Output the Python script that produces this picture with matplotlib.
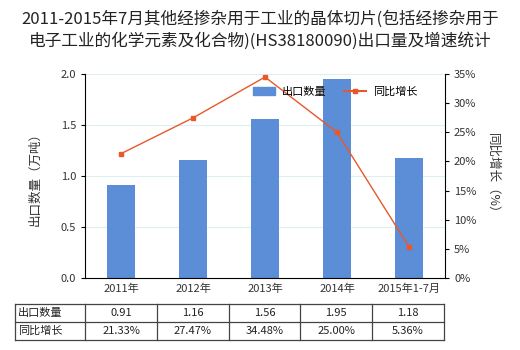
import matplotlib
matplotlib.use("Agg")
import matplotlib.pyplot as plt
from matplotlib.lines import Line2D
from matplotlib.patches import Patch

plt.rcParams['font.family'] = ['Noto Sans CJK SC', 'DejaVu Sans']

categories = ["2011年", "2012年", "2013年", "2014年", "2015年1-7月"]
volume = [0.91, 1.16, 1.56, 1.95, 1.18]
growth = [21.33, 27.47, 34.48, 25.00, 5.36]
volume_labels = ["0.91", "1.16", "1.56", "1.95", "1.18"]
growth_labels = ["21.33%", "27.47%", "34.48%", "25.00%", "5.36%"]

title = "2011-2015年7月其他经掺杂用于工业的晶体切片(包括经掺杂用于\n电子工业的化学元素及化合物)(HS38180090)出口量及增速统计"

bar_color = "#5B8ED6"
line_color = "#E8582A"
text_color = "#333333"

W, H = 520, 350
fig = plt.figure(figsize=(W / 100, H / 100), dpi=100)
left, right, top, bottom = 85, 445, 74, 278
ax = fig.add_axes([left / W, 1 - bottom / H, (right - left) / W, (bottom - top) / H])

x = list(range(len(categories)))
ax.bar(x, volume, width=0.4, color=bar_color, zorder=2)
ax.set_xlim(-0.5, len(categories) - 0.5)
ax.set_ylim(0, 2.0)
ax.set_yticks([0, 0.5, 1.0, 1.5, 2.0])
ax.set_yticklabels(["0.0", "0.5", "1.0", "1.5", "2.0"])
ax.set_xticks(x)
ax.set_xticklabels(categories)
ax.grid(axis='y', color="#DDEFF2", linewidth=0.8, zorder=0)
for s in ["top", "right"]:
    ax.spines[s].set_visible(False)
ax.spines["left"].set_color("black")
ax.spines["bottom"].set_color("black")
ax.tick_params(axis='y', labelsize=8, colors=text_color, length=3, color="black")
ax.tick_params(axis='x', labelsize=8, colors=text_color, length=0, pad=4)
ax.set_ylabel("出口数量（万吨）", fontsize=9, color=text_color, labelpad=14)

ax2 = ax.twinx()
ax2.plot(x, growth, color=line_color, linewidth=1.0, marker='s', markersize=3.5, zorder=3)
ax2.set_ylim(0, 35)
ax2.set_yticks(range(0, 36, 5))
ax2.set_yticklabels([f"{v}%" for v in range(0, 36, 5)])
for s in ["top", "left", "bottom"]:
    ax2.spines[s].set_visible(False)
ax2.spines["right"].set_color("black")
ax2.tick_params(axis='y', labelsize=8, colors=text_color, length=3, color="black")
ax2.set_ylabel("同比增长（%）", fontsize=9, color=text_color, rotation=-90, labelpad=16)

handles = [Patch(color=bar_color, label="出口数量"),
           Line2D([0], [0], color=line_color, marker='s', markersize=3.5, linewidth=1.5, label="同比增长")]
fig.legend(handles=handles, loc="center", bbox_to_anchor=(335 / W, 1 - 92 / H), ncol=2,
           frameon=False, fontsize=8, handlelength=2.0, columnspacing=1.6, handletextpad=0.6)

fig.text(0.5, 1 - 30 / H, title, ha='center', va='center', fontsize=12, color="#222222", linespacing=1.3)

# data table beneath the axes
col_edges = [15, 85, 157, 229, 300, 372, 444]
row_edges = [304, 322, 340]
tcol = "#444444"
for yy in row_edges:
    fig.add_artist(Line2D([col_edges[0] / W, col_edges[-1] / W], [1 - yy / H, 1 - yy / H],
                          color=tcol, linewidth=0.9))
for xx in col_edges:
    fig.add_artist(Line2D([xx / W, xx / W], [1 - row_edges[0] / H, 1 - row_edges[-1] / H],
                          color=tcol, linewidth=0.9))
row_names = ["出口数量", "同比增长"]
rows = [volume_labels, growth_labels]
for r in range(2):
    yc = 1 - (row_edges[r] + row_edges[r + 1]) / 2 / H
    fig.text((col_edges[0] + 3) / W, yc, row_names[r], ha='left', va='center', fontsize=8, color="#222222")
    for c in range(len(categories)):
        xc = (col_edges[c + 1] + col_edges[c + 2]) / 2 / W
        fig.text(xc, yc, rows[r][c], ha='center', va='center', fontsize=8, color="#222222")

fig.savefig("out.png", dpi=100, facecolor="white")
